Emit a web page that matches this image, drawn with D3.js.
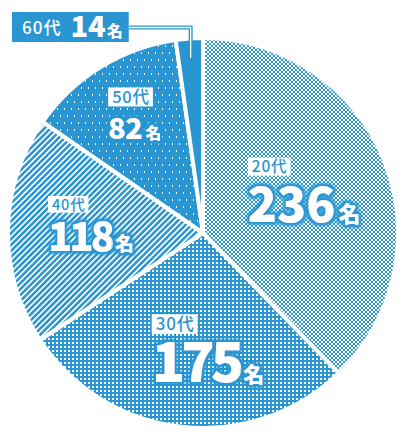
<!DOCTYPE html>
<html><head><meta charset="utf-8">
<script src="https://cdn.jsdelivr.net/npm/d3@7"></script>
<style>html,body{margin:0;padding:0;background:#fff;}svg{display:block;}</style>
</head><body>
<script>
const categories = ["20代", "30代", "40代", "50代", "60代"];
const values = [236, 175, 118, 82, 14];
const unitLabel = "名";

const W = 408, H = 434;
const BLUE = "#2996d1";
const cx = 203, cy = 233, R = 195;

// label layout per slice (polar offset from mid-angle, sizes)
const labelLayout = [
  {rf: 0.564, da: -1,   num: 48, unit: 22, lab: 15.5, gap: 12, ls: 0},
  {rf: 0.59,  da: -8.8, num: 55, unit: 21, lab: 17,   gap: 8,  ls: -4},
  {rf: 0.576, da: 4,    num: 40, unit: 19, lab: 14.5, gap: 10, ls: -3},
  {rf: 0.706, da: 2,    num: 29, unit: 16, lab: 16.5, gap: 12, ls: -0.5}
];

const svg = d3.select("body").append("svg").attr("width", W).attr("height", H);
svg.append("rect").attr("width", W).attr("height", H).attr("fill", "#fff");
const defs = svg.append("defs");

// patterns
const p0 = defs.append("pattern").attr("id", "pat0").attr("patternUnits", "userSpaceOnUse").attr("width", 4).attr("height", 4);
p0.append("rect").attr("width", 4).attr("height", 4).attr("fill", "#fff");
p0.append("rect").attr("width", 2).attr("height", 2).attr("fill", BLUE);
p0.append("rect").attr("x", 2).attr("y", 2).attr("width", 2).attr("height", 2).attr("fill", BLUE);

const p1 = defs.append("pattern").attr("id", "pat1").attr("patternUnits", "userSpaceOnUse").attr("width", 4).attr("height", 4);
p1.append("rect").attr("width", 4).attr("height", 4).attr("fill", BLUE);
p1.append("rect").attr("x", 1).attr("y", 1).attr("width", 2).attr("height", 2).attr("fill", "#fff");

const p2 = defs.append("pattern").attr("id", "pat2").attr("patternUnits", "userSpaceOnUse").attr("width", 4.2).attr("height", 4.2).attr("patternTransform", "rotate(45)");
p2.append("rect").attr("width", 4.2).attr("height", 4.2).attr("fill", BLUE);
p2.append("rect").attr("width", 1.7).attr("height", 4.2).attr("fill", "#fff");

const p3 = defs.append("pattern").attr("id", "pat3").attr("patternUnits", "userSpaceOnUse").attr("width", 7).attr("height", 14);
p3.append("rect").attr("width", 7).attr("height", 14).attr("fill", BLUE);
p3.append("rect").attr("x", 1).attr("y", 1).attr("width", 1).attr("height", 2).attr("fill", "#fff");
p3.append("rect").attr("x", 4).attr("y", 8).attr("width", 1).attr("height", 2).attr("fill", "#fff");

const fills = ["url(#pat0)", "url(#pat1)", "url(#pat2)", "url(#pat3)", BLUE];

// glow filter
const f = defs.append("filter").attr("id", "glow").attr("x", "-30%").attr("y", "-30%").attr("width", "160%").attr("height", "160%");
f.append("feMorphology").attr("in", "SourceAlpha").attr("operator", "dilate").attr("radius", 2.2).attr("result", "d");
f.append("feGaussianBlur").attr("in", "d").attr("stdDeviation", 1.6).attr("result", "b");
f.append("feFlood").attr("flood-color", BLUE);
f.append("feComposite").attr("in2", "b").attr("operator", "in").attr("result", "g");
const m = f.append("feMerge");
m.append("feMergeNode").attr("in", "g");
m.append("feMergeNode").attr("in", "g");
m.append("feMergeNode").attr("in", "SourceGraphic");

const pie = d3.pie().sort(null).value(d => d)(values);
const arc = d3.arc().innerRadius(0).outerRadius(R);

const g = svg.append("g").attr("transform", `translate(${cx},${cy})`);
g.selectAll("path.slice").data(pie).join("path")
  .attr("class", "slice")
  .attr("d", arc)
  .attr("fill", (d, i) => fills[i])
  .attr("stroke", "#fff")
  .attr("stroke-width", 4)
  .attr("stroke-linejoin", "miter");

const NUMFONT = "'Noto Sans CJK JP', 'Noto Sans', sans-serif";

// labels for first four slices
pie.slice(0, 4).forEach((d, i) => {
  const L = labelLayout[i];
  const mid = (d.startAngle + d.endAngle) / 2 + L.da * Math.PI / 180;
  const tx = cx + Math.sin(mid) * L.rf * R;
  const ty = cy - Math.cos(mid) * L.rf * R;
  const grp = svg.append("g");
  const num = grp.append("text").attr("x", 0).attr("y", 0)
    .attr("font-family", NUMFONT).attr("font-weight", 900).attr("font-size", L.num)
    .attr("fill", "#fff").attr("filter", "url(#glow)").attr("letter-spacing", L.ls)
    .text(values[i]);
  const nw = num.node().getComputedTextLength();
  const ut = grp.append("text").attr("x", nw + 3).attr("y", 0)
    .attr("font-family", NUMFONT).attr("font-weight", 900).attr("font-size", L.unit)
    .attr("fill", "#fff").attr("filter", "url(#glow)")
    .text(unitLabel);
  const uw = ut.node().getComputedTextLength();
  const capH = L.num * 0.72;
  const boxH = L.lab * 1.15;
  const boxTop = -capH - L.gap - boxH;
  const rect = grp.append("rect").attr("x", 0).attr("y", boxTop).attr("height", boxH).attr("fill", "#fff");
  const lt = grp.append("text").attr("x", 4).attr("y", boxTop + boxH * 0.5).attr("dy", "0.36em")
    .attr("font-family", NUMFONT).attr("font-weight", 500).attr("font-size", L.lab)
    .attr("letter-spacing", 0.8)
    .attr("fill", BLUE).text(categories[i]);
  rect.attr("width", lt.node().getComputedTextLength() + 7);
  const gx0 = 0, gx1 = nw + 3 + uw, gy0 = boxTop, gy1 = 0;
  grp.attr("transform", `translate(${tx - (gx0 + gx1) / 2},${ty - (gy0 + gy1) / 2})`);
});

// 60代 callout
const d4 = pie[4];
const mid4 = (d4.startAngle + d4.endAngle) / 2;
const px = cx + Math.sin(mid4) * R * 0.9;
const py = cy - Math.cos(mid4) * R * 0.9;
const cg = svg.append("g");
const boxX = 12, boxY = 12, boxH4 = 30;
const cRect = cg.append("rect").attr("x", boxX).attr("y", boxY).attr("height", boxH4).attr("fill", BLUE);
const t1 = cg.append("text").attr("x", boxX + 10).attr("y", boxY + 22)
  .attr("font-family", NUMFONT).attr("font-weight", 500).attr("font-size", 17)
  .attr("letter-spacing", 1)
  .attr("fill", "#fff").text(categories[4]);
const t1w = t1.node().getComputedTextLength();
const t2 = cg.append("text").attr("x", boxX + 10 + t1w + 9).attr("y", boxY + 25)
  .attr("font-family", NUMFONT).attr("font-weight", 900).attr("font-size", 29)
  .attr("fill", "#fff").attr("letter-spacing", 0).text(values[4]);
const t2w = t2.node().getComputedTextLength();
const t3 = cg.append("text").attr("x", boxX + 10 + t1w + 9 + t2w + 1).attr("y", boxY + 25)
  .attr("font-family", NUMFONT).attr("font-weight", 900).attr("font-size", 16)
  .attr("fill", "#fff").text(unitLabel);
const t3w = t3.node().getComputedTextLength();
const boxW4 = 10 + t1w + 9 + t2w + 1 + t3w + 6;
cRect.attr("width", boxW4);
const ly = boxY + 15.5;
const leader = `M${boxX + boxW4},${ly}H${px}V${py}`;
cg.append("path").attr("d", leader).attr("fill", "none").attr("stroke", BLUE).attr("stroke-width", 4);
cg.append("path").attr("d", leader).attr("fill", "none").attr("stroke", "#fff").attr("stroke-width", 1.3);
</script>
</body></html>
